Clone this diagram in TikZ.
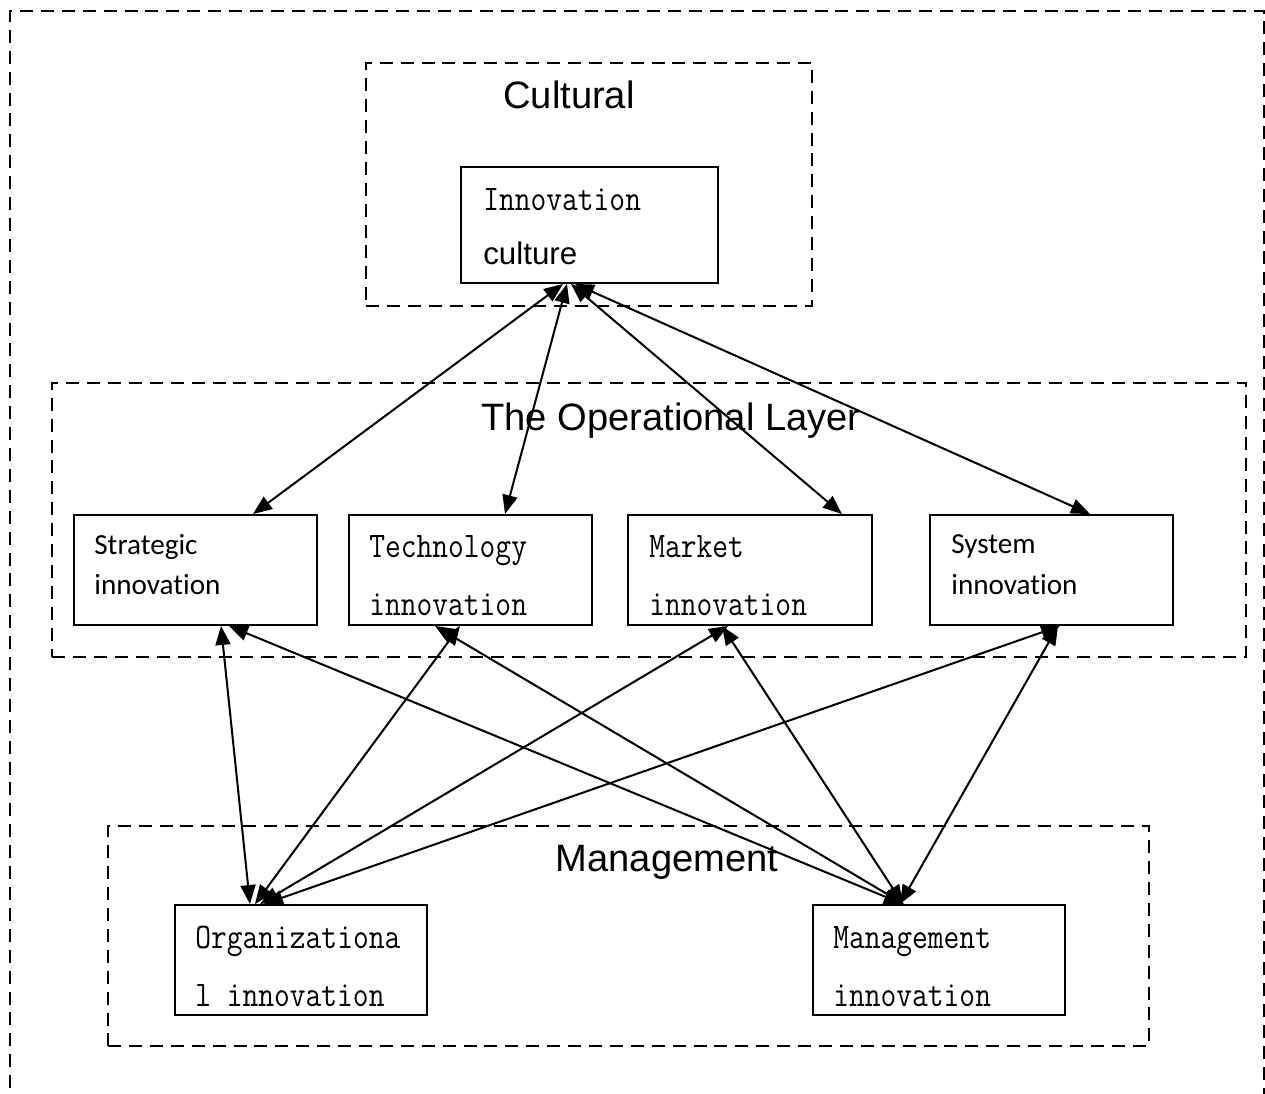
\documentclass[tikz,border=0pt]{standalone}
\usepackage{fontspec}
\setmainfont{Liberation Sans}
\newfontfamily\monof[FakeStretch=0.85]{Latin Modern Mono}
\newfontfamily\calib[Ligatures=NoCommon]{Carlito}
\usetikzlibrary{arrows.meta,calc}
\begin{document}
\begin{tikzpicture}[x=0.02cm,y=-0.02cm,
  box/.style={draw,line width=1.1pt,inner sep=0pt,minimum height=2.2cm},
  grp/.style={draw,line width=0.85pt,dash pattern=on 7.4pt off 4.5pt,inner sep=0pt},
  grplabel/.style={anchor=base,inner sep=0pt,font=\fontsize{21.7}{26}\selectfont},
  mtext/.style={anchor=base west,inner sep=0pt,font=\monof\fontsize{20.5}{24}\selectfont},
  ctext/.style={anchor=base west,inner sep=0pt,font=\calib\fontsize{16.6}{20}\selectfont},
  stext/.style={anchor=base west,inner sep=0pt,font=\fontsize{17.8}{21}\selectfont},
  tipshape/.tip={Triangle[length=0.38cm,width=0.3cm]},
  arr/.style={tipshape-tipshape,line width=1.15pt}]
\useasboundingbox (0,0) rectangle (1265,1093);
\fill[white] (0,0) rectangle (1265,1093);
% outer frame (open at bottom)
\draw[grp] (10,1130) -- (10,11) -- (1264,11) -- (1264,1130);
% group boxes
\node[grp,minimum width=8.92cm,minimum height=4.86cm] (gcult) at (589,184.5) {};
\node[grp,minimum width=23.88cm,minimum height=5.48cm] (gop) at (649,520) {};
\node[grp,minimum width=20.82cm,minimum height=4.4cm] (gman) at (628.5,936) {};
\node[grplabel] (lcult) at (569,108) {Cultural};
\node[grplabel] (lop) at (671,430) {The Operational Layer};
\node[grplabel] (lman) at (667,871) {Management};
% boxes
\node[box,minimum width=5.14cm,minimum height=2.32cm] (cult) at (589.5,225) {};
\node[box,minimum width=4.86cm] (strat) at (195.5,570) {};
\node[box,minimum width=4.86cm] (tech) at (470.5,570) {};
\node[box,minimum width=4.88cm] (market) at (750,570) {};
\node[box,minimum width=4.86cm] (system) at (1051.5,570) {};
\node[box,minimum width=5.04cm] (org) at (301,960) {};
\node[box,minimum width=5.04cm] (mgmt) at (939,960) {};
% texts
\node[mtext] (t1a) at (483,210) {Innovation};
\node[stext] (t1b) at (483,264) {culture};
\node[ctext] (t2a) at (94,554) {Strategic};
\node[ctext] (t2b) at (94,594) {innovation};
\node[mtext] (t3a) at (369,557) {Technology};
\node[mtext] (t3b) at (369,615) {innovation};
\node[mtext] (t4a) at (649,557) {Market};
\node[mtext] (t4b) at (649,615) {innovation};
\node[ctext] (t5a) at (951,553) {System};
\node[ctext] (t5b) at (951,594) {innovation};
\node[mtext] (t6a) at (195,948) {Organizationa};
\node[mtext] (t6b) at (195,1006) {l innovation};
\node[mtext] (t7a) at (833,948) {Management};
\node[mtext] (t7b) at (833,1006) {innovation};
% connectors: culture <-> operational
\draw[arr] ($(cult.south)+(-26.5,0)$) -- ($(strat.north)+(57.5,0)$);
\draw[arr] ($(cult.south)+(-22.5,0)$) -- ($(tech.north)+(34.5,0)$);
\draw[arr] ($(cult.south)+(-18.5,0)$) -- ($(market.north)+(92,0)$);
\draw[arr] ($(cult.south)+(-14.5,0)$) -- ($(system.north)+(38.5,0)$);
% operational <-> management
\draw[arr] ($(strat.south)+(25.5,0)$) -- ($(org.north)+(-51,0)$);
\draw[arr] ($(strat.south)+(33.5,0)$) -- ($(mgmt.north)+(-36,0)$);
\draw[arr] ($(tech.south)+(-10.5,0)$) -- ($(org.north)+(-46,0)$);
\draw[arr] ($(tech.south)+(-35.5,0)$) -- ($(mgmt.north)+(-35,0)$);
\draw[arr] ($(market.south)+(-22,0)$) -- ($(org.north)+(-41,0)$);
\draw[arr] ($(market.south)+(-28,0)$) -- ($(mgmt.north)+(-36,0)$);
\draw[arr] ($(system.south)+(8.5,0)$) -- ($(org.north)+(-37,0)$);
\draw[arr] ($(system.south)+(6.5,0)$) -- ($(mgmt.north)+(-39,0)$);
\end{tikzpicture}
\end{document}
